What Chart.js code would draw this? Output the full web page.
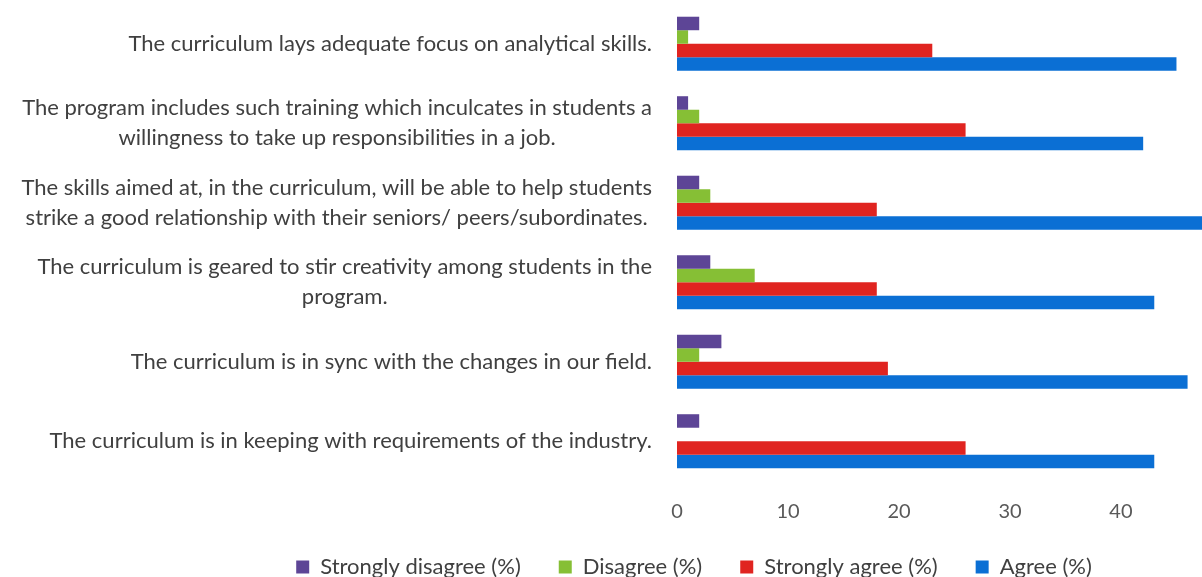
<!DOCTYPE html>
<html>
<head>
<meta charset="utf-8">
<script src="https://cdn.jsdelivr.net/npm/chart.js@4"></script>
<style>
    body { margin: 0; background: #fff; }
</style>
</head>
<body>
<canvas id="surveyChart" width="1202" height="577"></canvas>
<script>
const categories = [
    ["The curriculum lays adequate focus on analytical skills."],
    ["The program includes such training which inculcates in students a", "willingness to take up responsibilities in a job."],
    ["The skills aimed at, in the curriculum, will be able to help students", "strike a good relationship with their seniors/ peers/subordinates."],
    ["The curriculum is geared to stir creativity among students in the", "program."],
    ["The curriculum is in sync with the changes in our field."],
    ["The curriculum is in keeping with requirements of the industry."]
];

const stronglyDisagree = [2, 1, 2, 3, 4, 2];
const disagree = [1, 2, 3, 7, 2, 0];
const stronglyAgree = [23, 26, 18, 18, 19, 26];
const agree = [45, 42, 48, 43, 46, 43];

const xTicks = [0, 10, 20, 30, 40];

const textColor = "#404040";

// draws the wrapped question labels, each block right aligned, lines centred
const questionLabels = {
    id: "questionLabels",
    afterDraw(chart) {
        const ctx = chart.ctx;
        const yScale = chart.scales.y;
        const right = chart.chartArea.left - 25;
        const lineHeight = 30;
        ctx.save();
        ctx.font = "22px Lato";
        ctx.fillStyle = textColor;
        ctx.textAlign = "center";
        ctx.textBaseline = "middle";
        categories.forEach((lines, i) => {
            const y = yScale.getPixelForValue(i);
            let maxW = 0;
            lines.forEach(l => { maxW = Math.max(maxW, ctx.measureText(l).width); });
            const cx = right - maxW / 2;
            lines.forEach((l, j) => {
                ctx.fillText(l, cx, y + (j - (lines.length - 1) / 2) * lineHeight);
            });
        });
        ctx.restore();
    }
};

new Chart(document.getElementById("surveyChart"), {
    type: "bar",
    data: {
        labels: categories,
        datasets: [
            { label: "Strongly disagree (%)", data: stronglyDisagree, backgroundColor: "#5d4596" },
            { label: "Disagree (%)", data: disagree, backgroundColor: "#86bf35" },
            { label: "Strongly agree (%)", data: stronglyAgree, backgroundColor: "#e02420" },
            { label: "Agree (%)", data: agree, backgroundColor: "#0b6fd4" }
        ]
    },
    options: {
        indexAxis: "y",
        responsive: false,
        animation: false,
        categoryPercentage: 0.68,
        barPercentage: 1.0,
        layout: {
            padding: { top: 4, left: 186, right: 0, bottom: 0 }
        },
        scales: {
            x: {
                min: 0,
                max: 47.3,
                grid: { display: false, drawTicks: false },
                border: { display: false },
                afterBuildTicks(scale) {
                    scale.ticks = xTicks.map(v => ({ value: v }));
                },
                afterFit(scale) {
                    scale.height = 37;
                },
                ticks: {
                    stepSize: 10,
                    padding: 19,
                    color: "#595959",
                    font: { family: "Lato", size: 20 }
                }
            },
            y: {
                grid: { display: false, drawTicks: false },
                border: { display: false },
                ticks: { display: false },
                afterFit(scale) {
                    scale.width = 491;
                }
            }
        },
        plugins: {
            legend: {
                position: "bottom",
                maxHeight: 59,
                labels: {
                    boxWidth: 13,
                    boxHeight: 13,
                    padding: 38,
                    color: textColor,
                    font: { family: "Lato", size: 22 }
                }
            },
            tooltip: { enabled: false }
        }
    },
    plugins: [questionLabels]
});
</script>
</body>
</html>
